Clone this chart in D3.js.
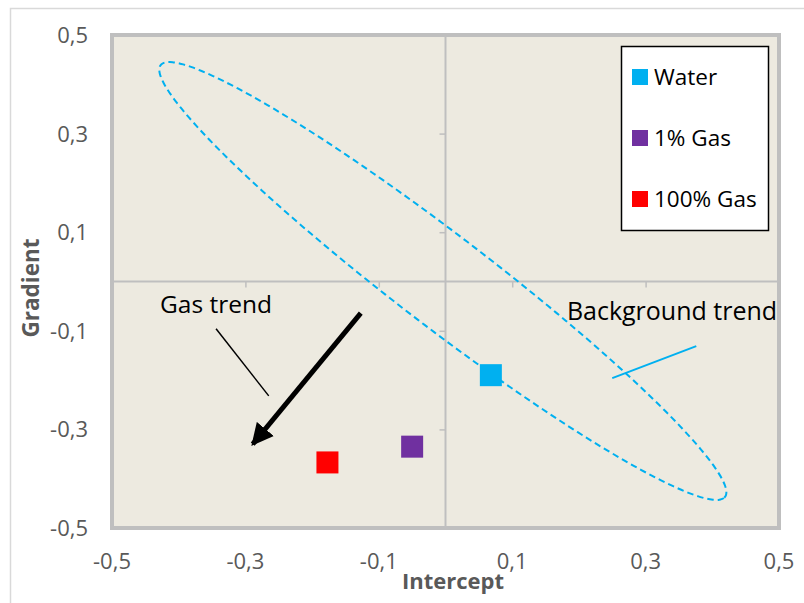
<!DOCTYPE html>
<html>
<head>
<meta charset="utf-8">
<script src="https://cdn.jsdelivr.net/npm/d3@7"></script>
<style>
  html, body { margin: 0; padding: 0; background: #ffffff; }
  svg { display: block; font-family: "Open Sans", sans-serif; }
</style>
</head>
<body>
<svg id="chart" width="804" height="603"></svg>
<script>
// Series: one point per fluid case
const seriesNames  = ["Water", "1% Gas", "100% Gas"];
const intercepts   = [0.068, -0.050, -0.177];
const gradients    = [-0.190, -0.335, -0.367];
const seriesColors = ["#00B0F0", "#7030A0", "#FF0000"];

// Axis ticks
const xTickValues = [-0.5, -0.3, -0.1, 0.1, 0.3, 0.5];
const yTickValues = [0.5, 0.3, 0.1, -0.1, -0.3, -0.5];

// Background trend ellipse (data units): centre, semi-major and semi-minor vectors
const ellipseCenter   = [-0.004, 0.001];
const ellipseMajorVec = [0.4230, -0.4380];
const ellipseMinorVec = [-0.0421, -0.0738];

// Annotations (data units)
const gasArrow        = { from: [-0.127, -0.064], to: [-0.289, -0.330] };
const gasLabel        = { text: "Gas trend", at: [-0.428, -0.064] };
const gasLeader       = { from: [-0.344, -0.096], to: [-0.265, -0.232] };
const bgLabel         = { text: "Background trend", at: [0.182, -0.078] };
const bgLeader        = { from: [0.250, -0.196], to: [0.376, -0.131] };

const svg = d3.select("#chart");

const x = d3.scaleLinear().domain([-0.5, 0.5]).range([112, 779]);
const y = d3.scaleLinear().domain([-0.5, 0.5]).range([528, 35]);

const locale = d3.formatLocale({ decimal: ",", thousands: ".", grouping: [3], currency: ["", ""], minus: "-" });
const fmt = locale.format(".1f");

// Outer chart frame
svg.append("rect")
  .attr("x", 10.5).attr("y", 8.5).attr("width", 820).attr("height", 620)
  .attr("fill", "#ffffff").attr("stroke", "#d9d9d9").attr("stroke-width", 1.5);

// Plot area
svg.append("rect")
  .attr("x", x(-0.5)).attr("y", y(0.5))
  .attr("width", x(0.5) - x(-0.5)).attr("height", y(-0.5) - y(0.5))
  .attr("fill", "#EDEAE0");

// Axes crossing at zero
const axisColor = "#bfbfbf";
const xAxisG = svg.append("g").attr("transform", `translate(0,${y(0)})`)
  .call(d3.axisBottom(x).tickValues(xTickValues.slice(1, -1)).tickSize(6).tickFormat(""));
const yAxisG = svg.append("g").attr("transform", `translate(${x(0)},0)`)
  .call(d3.axisLeft(y).tickValues(yTickValues.slice(1, -1)).tickSize(6).tickFormat(""));
[xAxisG, yAxisG].forEach(g => {
  g.select(".domain").attr("stroke", axisColor).attr("stroke-width", 2);
  g.selectAll(".tick line").attr("stroke", axisColor).attr("stroke-width", 1.5);
});
xAxisG.select(".domain").attr("d", `M${x(-0.5)},0H${x(0.5)}`);
yAxisG.select(".domain").attr("d", `M0,${y(0.5)}V${y(-0.5)}`);

// Plot area border
svg.append("rect")
  .attr("x", x(-0.5)).attr("y", y(0.5))
  .attr("width", x(0.5) - x(-0.5)).attr("height", y(-0.5) - y(0.5))
  .attr("fill", "none").attr("stroke", "#bfbfbf").attr("stroke-width", 4);

// Tick labels (low position)
svg.append("g").selectAll("text").data(xTickValues).join("text")
  .attr("x", d => x(d)).attr("y", 569)
  .attr("text-anchor", "middle")
  .attr("font-size", 22).attr("fill", "#595959")
  .text(d => fmt(d));
svg.append("g").selectAll("text").data(yTickValues).join("text")
  .attr("x", 88).attr("y", d => y(d) + 8)
  .attr("text-anchor", "end")
  .attr("font-size", 22).attr("fill", "#595959")
  .text(d => fmt(d));

// Axis titles
svg.append("text")
  .attr("x", 453).attr("y", 589)
  .attr("text-anchor", "middle")
  .attr("font-size", 22).attr("font-weight", "bold").attr("fill", "#595959")
  .text("Intercept");
svg.append("text")
  .attr("transform", "translate(39,288) rotate(-90)")
  .attr("text-anchor", "middle")
  .attr("font-size", 22.5).attr("font-weight", "bold").attr("fill", "#595959")
  .text("Gradient");

// Background trend ellipse
const ellipsePts = d3.range(0, 360, 2).map(deg => {
  const t = deg * Math.PI / 180;
  return [
    ellipseCenter[0] + ellipseMajorVec[0] * Math.cos(t) + ellipseMinorVec[0] * Math.sin(t),
    ellipseCenter[1] + ellipseMajorVec[1] * Math.cos(t) + ellipseMinorVec[1] * Math.sin(t)
  ];
});
svg.append("path")
  .datum(ellipsePts)
  .attr("d", d3.line().x(d => x(d[0])).y(d => y(d[1])).curve(d3.curveCardinalClosed))
  .attr("fill", "none").attr("stroke", "#00B0F0").attr("stroke-width", 2)
  .attr("stroke-dasharray", "6.5,4");

// Data points
const markerSize = 22;
svg.append("g").selectAll("rect").data(seriesNames).join("rect")
  .attr("x", (d, i) => x(intercepts[i]) - markerSize / 2)
  .attr("y", (d, i) => y(gradients[i]) - markerSize / 2)
  .attr("width", markerSize).attr("height", markerSize)
  .attr("fill", (d, i) => seriesColors[i]);

// Gas trend arrow
svg.append("defs").append("marker")
  .attr("id", "arrowHead")
  .attr("viewBox", "0 0 10 10")
  .attr("refX", 9).attr("refY", 5)
  .attr("markerWidth", 4.4).attr("markerHeight", 4.6)
  .attr("markerUnits", "strokeWidth")
  .attr("orient", "auto")
  .append("path").attr("d", "M0,0L10,5L0,10Z").attr("fill", "#000000");
svg.append("line")
  .attr("x1", x(gasArrow.from[0])).attr("y1", y(gasArrow.from[1]))
  .attr("x2", x(gasArrow.to[0])).attr("y2", y(gasArrow.to[1]))
  .attr("stroke", "#000000").attr("stroke-width", 5)
  .attr("marker-end", "url(#arrowHead)");

// Annotation labels and leaders
svg.append("text")
  .attr("x", x(gasLabel.at[0])).attr("y", y(gasLabel.at[1]))
  .attr("font-size", 24.5).attr("fill", "#000000")
  .text(gasLabel.text);
svg.append("line")
  .attr("x1", x(gasLeader.from[0])).attr("y1", y(gasLeader.from[1]))
  .attr("x2", x(gasLeader.to[0])).attr("y2", y(gasLeader.to[1]))
  .attr("stroke", "#000000").attr("stroke-width", 1.5);
svg.append("text")
  .attr("x", x(bgLabel.at[0])).attr("y", y(bgLabel.at[1]))
  .attr("font-size", 25).attr("fill", "#000000")
  .text(bgLabel.text);
svg.append("line")
  .attr("x1", x(bgLeader.from[0])).attr("y1", y(bgLeader.from[1]))
  .attr("x2", x(bgLeader.to[0])).attr("y2", y(bgLeader.to[1]))
  .attr("stroke", "#00B0F0").attr("stroke-width", 2);

// Legend
const legend = svg.append("g");
legend.append("rect")
  .attr("x", 621.5).attr("y", 46.5).attr("width", 147).attr("height", 184)
  .attr("fill", "#ffffff").attr("stroke", "#000000").attr("stroke-width", 1.5);
const legendRowY = [77, 138, 199];
const items = legend.selectAll("g.item").data(seriesNames).join("g").attr("class", "item");
items.append("rect")
  .attr("x", 632).attr("y", (d, i) => legendRowY[i] - 8)
  .attr("width", 16).attr("height", 16)
  .attr("fill", (d, i) => seriesColors[i]);
items.append("text")
  .attr("x", 654).attr("y", (d, i) => legendRowY[i] + 8)
  .attr("font-size", 22.5).attr("fill", "#000000")
  .text(d => d);
</script>
</body>
</html>
